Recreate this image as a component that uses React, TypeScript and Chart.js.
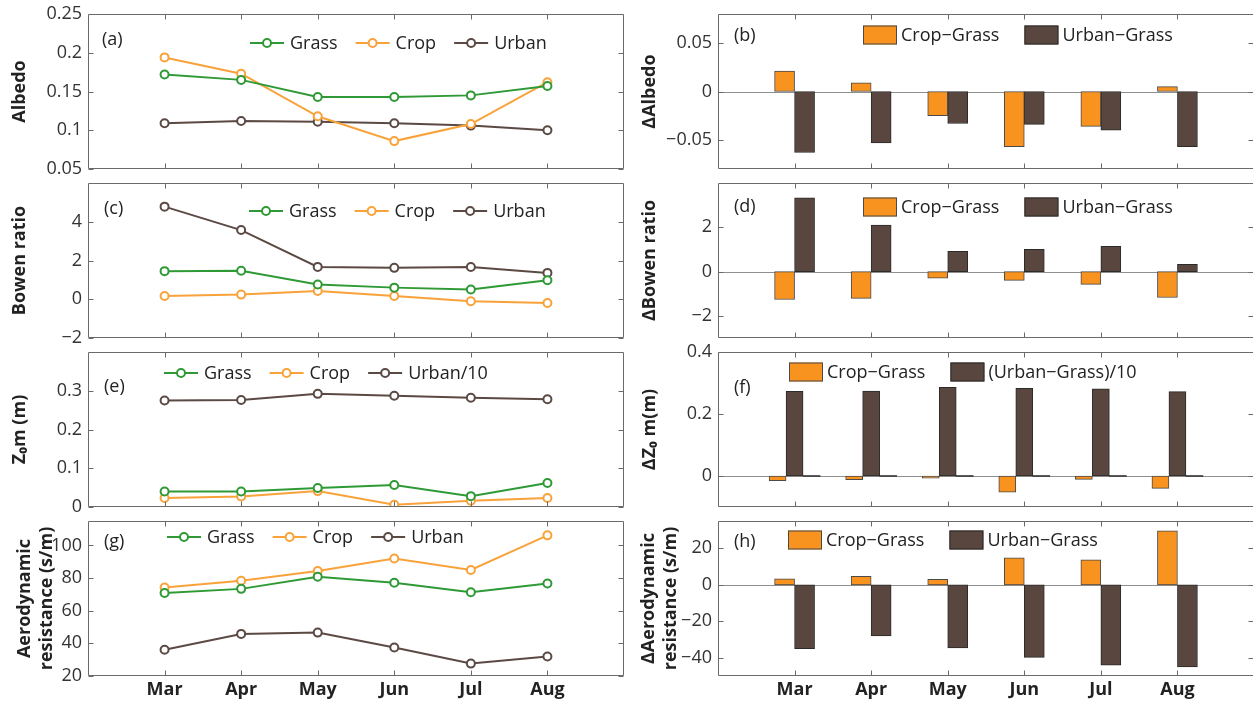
import { useEffect, useRef } from 'react';
import { Chart, registerables } from 'chart.js';

Chart.register(...registerables);

// ---------- data ----------
const months = ['Mar', 'Apr', 'May', 'Jun', 'Jul', 'Aug'];

const albedoGrass = [0.172, 0.165, 0.143, 0.143, 0.145, 0.157];
const albedoCrop = [0.194, 0.173, 0.118, 0.086, 0.108, 0.162];
const albedoUrban = [0.109, 0.112, 0.111, 0.109, 0.106, 0.1];
const dAlbedoCrop = [0.021, 0.009, -0.025, -0.057, -0.036, 0.005];
const dAlbedoUrban = [-0.063, -0.053, -0.033, -0.034, -0.04, -0.057];

const bowenGrass = [1.45, 1.47, 0.76, 0.6, 0.5, 0.98];
const bowenCrop = [0.17, 0.24, 0.43, 0.17, -0.1, -0.19];
const bowenUrban = [4.78, 3.57, 1.67, 1.62, 1.66, 1.36];
const dBowenCrop = [-1.26, -1.21, -0.3, -0.4, -0.58, -1.17];
const dBowenUrban = [3.33, 2.1, 0.91, 1.0, 1.14, 0.33];

const z0Grass = [0.04, 0.04, 0.049, 0.057, 0.028, 0.062];
const z0Crop = [0.023, 0.027, 0.041, 0.006, 0.016, 0.023];
const z0Urban10 = [0.275, 0.276, 0.292, 0.287, 0.282, 0.278];
const dZ0Crop = [-0.015, -0.012, -0.007, -0.052, -0.011, -0.04];
const dZ0Urban10 = [0.273, 0.274, 0.286, 0.283, 0.281, 0.272];
const dZ0Zero = [0, 0, 0, 0, 0, 0];

const raGrass = [70.9, 73.4, 80.8, 77.1, 71.3, 76.7];
const raCrop = [74.2, 78.4, 84.3, 92.0, 85.0, 106.2];
const raUrban = [36.1, 45.8, 46.6, 37.5, 27.6, 32.0];
const dRaCrop = [3.3, 4.6, 3.0, 14.8, 13.7, 29.6];
const dRaUrban = [-35.0, -28.0, -34.6, -39.8, -44.1, -45.0];

const ticksA = [0.05, 0.1, 0.15, 0.2, 0.25];
const ticksB = [-0.05, 0, 0.05];
const ticksC = [-2, 0, 2, 4];
const ticksD = [-2, 0, 2];
const ticksE = [0, 0.1, 0.2, 0.3];
const ticksF = [0, 0.2, 0.4];
const ticksG = [20, 40, 60, 80, 100];
const ticksH = [-40, -20, 0, 20];

// category axis with an empty slot at both ends (x range 0..7)
const xLabels = ['', ...months, ''];
const pad = (arr: number[]) => [null, ...arr, null];

// ---------- styles ----------
const FONT = '"Open Sans", "Noto Sans", sans-serif';
const GREEN = '#2f9a35';
const ORANGE_LINE = '#f9a23a';
const BROWN_LINE = '#5b4944';
const ORANGE_BAR = '#f7931e';
const BROWN_BAR = '#59463f';

const lineDs = (label: string, data: number[], color: string) => ({
  label,
  data: pad(data),
  borderColor: color,
  backgroundColor: color,
  borderWidth: 2,
  pointRadius: 4,
  pointBorderWidth: 2,
  pointBackgroundColor: '#ffffff',
  pointBorderColor: color,
});

const barDs = (label: string, data: number[], fill: string, edge: string, thickness: number) => ({
  label,
  data: pad(data),
  backgroundColor: fill,
  borderColor: edge,
  borderWidth: 1,
  borderSkipped: false,
  barThickness: thickness,
});

const fmt = (v: number) => {
  const s = String(Number(Math.abs(v).toFixed(4)));
  return v < 0 ? '\u2212' + s : s;
};

// ---------- plugins ----------
const framePlugin = {
  id: 'frame',
  beforeDatasetsDraw(chart: any, _a: any, opts: any) {
    if (!opts || !opts.zeroLine) return;
    const { ctx, chartArea: a, scales } = chart;
    const y0 = Math.round(scales.y.getPixelForValue(0)) + 0.5;
    ctx.save();
    ctx.strokeStyle = '#8f8f8f';
    ctx.lineWidth = 1;
    ctx.beginPath();
    ctx.moveTo(a.left, y0);
    ctx.lineTo(a.right, y0);
    ctx.stroke();
    ctx.restore();
  },
  afterDatasetsDraw(chart: any) {
    const { ctx, chartArea: a, scales } = chart;
    const L = Math.round(a.left) + 0.5;
    const R = Math.round(a.right) - 0.5;
    const T = Math.round(a.top) + 0.5;
    const B = Math.round(a.bottom) - 0.5;
    const tl = 5;
    ctx.save();
    ctx.strokeStyle = '#6a6a6a';
    ctx.lineWidth = 1;
    ctx.beginPath();
    ctx.rect(L, T, R - L, B - T);
    scales.y.ticks.forEach((t: any) => {
      const py = Math.round(scales.y.getPixelForValue(t.value)) + 0.5;
      ctx.moveTo(L, py);
      ctx.lineTo(L + tl, py);
      ctx.moveTo(R, py);
      ctx.lineTo(R - tl, py);
    });
    scales.x.ticks.forEach((t: any) => {
      if (!xLabels[t.value]) return;
      const px = Math.round(scales.x.getPixelForValue(t.value)) + 0.5;
      ctx.moveTo(px, B);
      ctx.lineTo(px, B - tl);
      ctx.moveTo(px, T);
      ctx.lineTo(px, T + tl);
    });
    ctx.stroke();
    ctx.restore();
  },
};

const insideLegendPlugin = {
  id: 'insideLegend',
  afterDraw(chart: any, _a: any, opts: any) {
    if (!opts) return;
    const { ctx, chartArea: a } = chart;
    ctx.save();
    ctx.font = `18px ${FONT}`;
    ctx.textBaseline = 'middle';
    ctx.textAlign = 'left';
    // panel label
    ctx.fillStyle = '#222';
    ctx.fillText(opts.label, a.left + opts.lx, a.top + opts.ly);
    let x = a.left + opts.dx;
    const y = a.top + opts.dy;
    chart.data.datasets.forEach((ds: any) => {
      if (ds.legendSkip) return;
      const w = ctx.measureText(ds.label).width;
      if (opts.kind === 'line') {
        ctx.strokeStyle = ds.borderColor;
        ctx.lineWidth = 2;
        ctx.beginPath();
        ctx.moveTo(x, y);
        ctx.lineTo(x + 34, y);
        ctx.stroke();
        ctx.beginPath();
        ctx.arc(x + 17, y, 4, 0, Math.PI * 2);
        ctx.fillStyle = '#fff';
        ctx.fill();
        ctx.stroke();
        ctx.fillStyle = '#222';
        ctx.fillText(ds.label, x + 40, y + 1);
        x += 40 + w + 18;
      } else {
        ctx.fillStyle = ds.backgroundColor;
        ctx.fillRect(x, y - 9.5, 34, 19);
        ctx.strokeStyle = ds.borderColor;
        ctx.lineWidth = 1;
        ctx.strokeRect(x + 0.5, y - 9, 33, 18);
        ctx.fillStyle = '#222';
        ctx.fillText(ds.label, x + 38, y + 1);
        x += 38 + w + 25;
      }
    });
    ctx.restore();
  },
};

// ---------- panels ----------
type PanelDef = {
  key: string;
  kind: 'line' | 'bar';
  col: 0 | 1;
  row: 0 | 1 | 2 | 3;
  datasets: any[];
  min: number;
  max: number;
  ticks: number[];
  title: string | string[];
  titlePad: number;
  legend: { label: string; lx: number; ly: number; dx: number; dy: number };
};

const rowTops = [14, 183, 352, 521];
const AREA_H = 155;
const COL_LEFT = [0, 630];
const COL_W = [630, 624];
const PAD_RIGHT = [6, 0];
const Y_W = 88;
const PAD_TOP = 12;

const panels: PanelDef[] = [
  {
    key: 'a', kind: 'line', col: 0, row: 0,
    datasets: [lineDs('Grass', albedoGrass, GREEN), lineDs('Crop', albedoCrop, ORANGE_LINE), lineDs('Urban', albedoUrban, BROWN_LINE)],
    min: 0.05, max: 0.25, ticks: ticksA, title: 'Albedo', titlePad: 9,
    legend: { label: '(a)', lx: 14, ly: 26, dx: 162, dy: 29 },
  },
  {
    key: 'b', kind: 'bar', col: 1, row: 0,
    datasets: [barDs('Crop\u2212Grass', dAlbedoCrop, ORANGE_BAR, '#4a4a4a', 20), barDs('Urban\u2212Grass', dAlbedoUrban, BROWN_BAR, '#2a2a2a', 20)],
    min: -0.08, max: 0.08, ticks: ticksB, title: '\u0394Albedo', titlePad: 9,
    legend: { label: '(b)', lx: 16, ly: 22, dx: 145, dy: 21 },
  },
  {
    key: 'c', kind: 'line', col: 0, row: 1,
    datasets: [lineDs('Grass', bowenGrass, GREEN), lineDs('Crop', bowenCrop, ORANGE_LINE), lineDs('Urban', bowenUrban, BROWN_LINE)],
    min: -2, max: 6, ticks: ticksC, title: 'Bowen ratio', titlePad: 9,
    legend: { label: '(c)', lx: 16, ly: 26, dx: 161, dy: 28 },
  },
  {
    key: 'd', kind: 'bar', col: 1, row: 1,
    datasets: [barDs('Crop\u2212Grass', dBowenCrop, ORANGE_BAR, '#4a4a4a', 20), barDs('Urban\u2212Grass', dBowenUrban, BROWN_BAR, '#2a2a2a', 20)],
    min: -3, max: 4, ticks: ticksD, title: '\u0394Bowen ratio', titlePad: 9,
    legend: { label: '(d)', lx: 16, ly: 24, dx: 145, dy: 24 },
  },
  {
    key: 'e', kind: 'line', col: 0, row: 2,
    datasets: [lineDs('Grass', z0Grass, GREEN), lineDs('Crop', z0Crop, ORANGE_LINE), lineDs('Urban/10', z0Urban10, BROWN_LINE)],
    min: 0, max: 0.4, ticks: ticksE, title: 'Z\u2080m (m)', titlePad: 9,
    legend: { label: '(e)', lx: 16, ly: 35, dx: 76, dy: 21 },
  },
  {
    key: 'f', kind: 'bar', col: 1, row: 2,
    datasets: [
      barDs('Crop\u2212Grass', dZ0Crop, ORANGE_BAR, '#4a4a4a', 17),
      barDs('(Urban\u2212Grass)/10', dZ0Urban10, BROWN_BAR, '#2a2a2a', 17),
      { ...barDs('', dZ0Zero, '#3a3a3a', '#3a3a3a', 17), borderWidth: 0, minBarLength: 1, legendSkip: true },
    ],
    min: -0.1, max: 0.4, ticks: ticksF, title: '\u0394Z\u2080 m(m)', titlePad: 9,
    legend: { label: '(f)', lx: 16, ly: 36, dx: 71, dy: 20 },
  },
  {
    key: 'g', kind: 'line', col: 0, row: 3,
    datasets: [lineDs('Grass', raGrass, GREEN), lineDs('Crop', raCrop, ORANGE_LINE), lineDs('Urban', raUrban, BROWN_LINE)],
    min: 20, max: 115, ticks: ticksG, title: ['Aerodynamic', 'resistance (s/m)'], titlePad: 14,
    legend: { label: '(g)', lx: 16, ly: 21, dx: 79, dy: 16 },
  },
  {
    key: 'h', kind: 'bar', col: 1, row: 3,
    datasets: [barDs('Crop\u2212Grass', dRaCrop, ORANGE_BAR, '#4a4a4a', 20), barDs('Urban\u2212Grass', dRaUrban, BROWN_BAR, '#2a2a2a', 20)],
    min: -50, max: 35, ticks: ticksH, title: ['\u0394Aerodynamic', 'resistance (s/m)'], titlePad: 8,
    legend: { label: '(h)', lx: 16, ly: 21, dx: 70, dy: 19 },
  },
];

function geometry(p: PanelDef) {
  const showX = p.row === 3;
  const top = rowTops[p.row] - PAD_TOP;
  const height = showX ? 709 - top : AREA_H + PAD_TOP * 2;
  return { showX, top, height, left: COL_LEFT[p.col], width: COL_W[p.col] };
}

function buildConfig(p: PanelDef): any {
  const g = geometry(p);
  // the x scale box fills everything below the plot area (labels on the bottom row, blank margin otherwise)
  const xHeight = g.height - PAD_TOP - AREA_H;
  return {
    type: p.kind,
    data: { labels: xLabels, datasets: p.datasets },
    options: {
      animation: false,
      responsive: false,
      maintainAspectRatio: false,
      devicePixelRatio: 1,
      events: [],
      layout: { padding: { left: 0, right: PAD_RIGHT[p.col], top: PAD_TOP, bottom: 0 } },
      plugins: {
        legend: { display: false },
        tooltip: { enabled: false },
        frame: { zeroLine: p.kind === 'bar' },
        insideLegend: { kind: p.kind, ...p.legend },
      },
      scales: {
        x: {
          type: 'category',
          offset: false,
          display: true,
          grid: { display: false, drawTicks: false },
          border: { display: false },
          ticks: {
            display: g.showX,
            autoSkip: false,
            maxRotation: 0,
            padding: 3,
            color: '#222',
            font: { family: FONT, size: 18, weight: 'bold' },
          },
          afterFit: (s: any) => {
            s.height = xHeight;
            s.paddingLeft = 0;
            s.paddingRight = 0;
          },
        },
        y: {
          type: 'linear',
          min: p.min,
          max: p.max,
          grid: { display: false, drawTicks: false },
          border: { display: false },
          afterBuildTicks: (s: any) => {
            s.ticks = p.ticks.map((v) => ({ value: v }));
          },
          ticks: {
            padding: 6,
            color: '#333',
            font: { family: FONT, size: 18 },
            callback: (v: number) => fmt(v),
          },
          title: {
            display: true,
            text: p.title,
            color: '#222',
            font: { family: FONT, size: 18, weight: 'bold', lineHeight: 1.2 },
            padding: { top: p.titlePad, bottom: 0 },
          },
          afterFit: (s: any) => {
            s.width = Y_W;
            s.paddingTop = 0;
            s.paddingBottom = 0;
          },
        },
      },
    },
    plugins: [framePlugin, insideLegendPlugin],
  };
}

function Panel({ def }: { def: PanelDef }) {
  const ref = useRef<HTMLCanvasElement | null>(null);
  const g = geometry(def);
  useEffect(() => {
    if (!ref.current) return;
    const chart = new Chart(ref.current, buildConfig(def));
    return () => chart.destroy();
  }, [def]);
  return (
    <canvas
      ref={ref}
      width={g.width}
      height={g.height}
      style={{ position: 'absolute', left: g.left, top: g.top, width: g.width, height: g.height }}
    />
  );
}

export default function App() {
  return (
    <div
      style={{
        position: 'absolute',
        left: 0,
        top: 0,
        width: 1253,
        height: 709,
        overflow: 'hidden',
        background: '#ffffff',
      }}
    >
      {panels.map((p) => (
        <Panel key={p.key} def={p} />
      ))}
    </div>
  );
}
